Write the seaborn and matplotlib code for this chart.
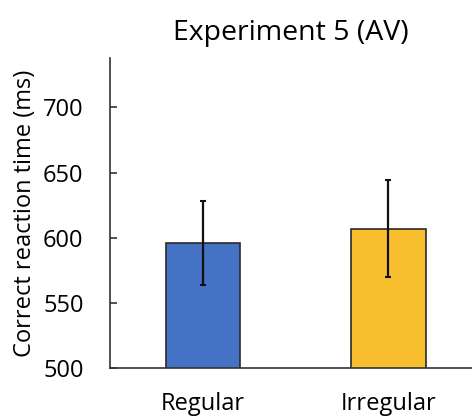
import matplotlib
matplotlib.use('Agg')
import matplotlib.pyplot as plt
import seaborn as sns
import pandas as pd

# Values
conditions = ['Regular', 'Irregular']
mean_rt = [596, 607]
err_rt = [32, 37]
bar_colors = ['#4472C4', '#F8BF2F']

sns.set_style('white')
plt.rcParams['font.family'] = ['Open Sans', 'DejaVu Sans']
plt.rcParams['text.color'] = 'black'
plt.rcParams['axes.labelcolor'] = 'black'
plt.rcParams['xtick.color'] = 'black'
plt.rcParams['ytick.color'] = '#333333'
plt.rcParams['ytick.labelcolor'] = 'black'
plt.rcParams['ytick.left'] = True
plt.rcParams['ytick.direction'] = 'in'
plt.rcParams['ytick.major.size'] = 5
plt.rcParams['ytick.major.width'] = 1.2
plt.rcParams['ytick.major.pad'] = 19
plt.rcParams['ytick.labelsize'] = 17
plt.rcParams['xtick.bottom'] = False
plt.rcParams['xtick.major.pad'] = 14
plt.rcParams['xtick.labelsize'] = 17

data = pd.DataFrame({'condition': conditions, 'rt': mean_rt})

fig = plt.figure(figsize=(4.72, 4.17), dpi=100)
ax = fig.add_axes([0.233, 0.1175, 0.767, 0.7435])

sns.barplot(data=data, x='condition', y='rt', hue='condition', palette=bar_colors,
            saturation=1, width=0.4, edgecolor='#2a2a2a', linewidth=1.2,
            legend=False, ax=ax)
ax.errorbar(range(len(conditions)), mean_rt, yerr=err_rt, fmt='none',
            ecolor='#111111', elinewidth=1.6, capsize=2, capthick=1.5)

ax.set_ylim(500, 738)
ax.set_xlim(-0.5, 1.45)
ax.set_yticks([500, 550, 600, 650, 700])
ax.set_title('Experiment 5 (AV)', fontsize=20.5, pad=13)
ax.set_xlabel('')
ax.set_ylabel('Correct reaction time (ms)', fontsize=17, labelpad=4)

sns.despine(ax=ax, top=True, right=True)
for side in ['left', 'bottom']:
    ax.spines[side].set_color('#333333')
    ax.spines[side].set_linewidth(1.2)

fig.savefig('out.png', dpi=100)
